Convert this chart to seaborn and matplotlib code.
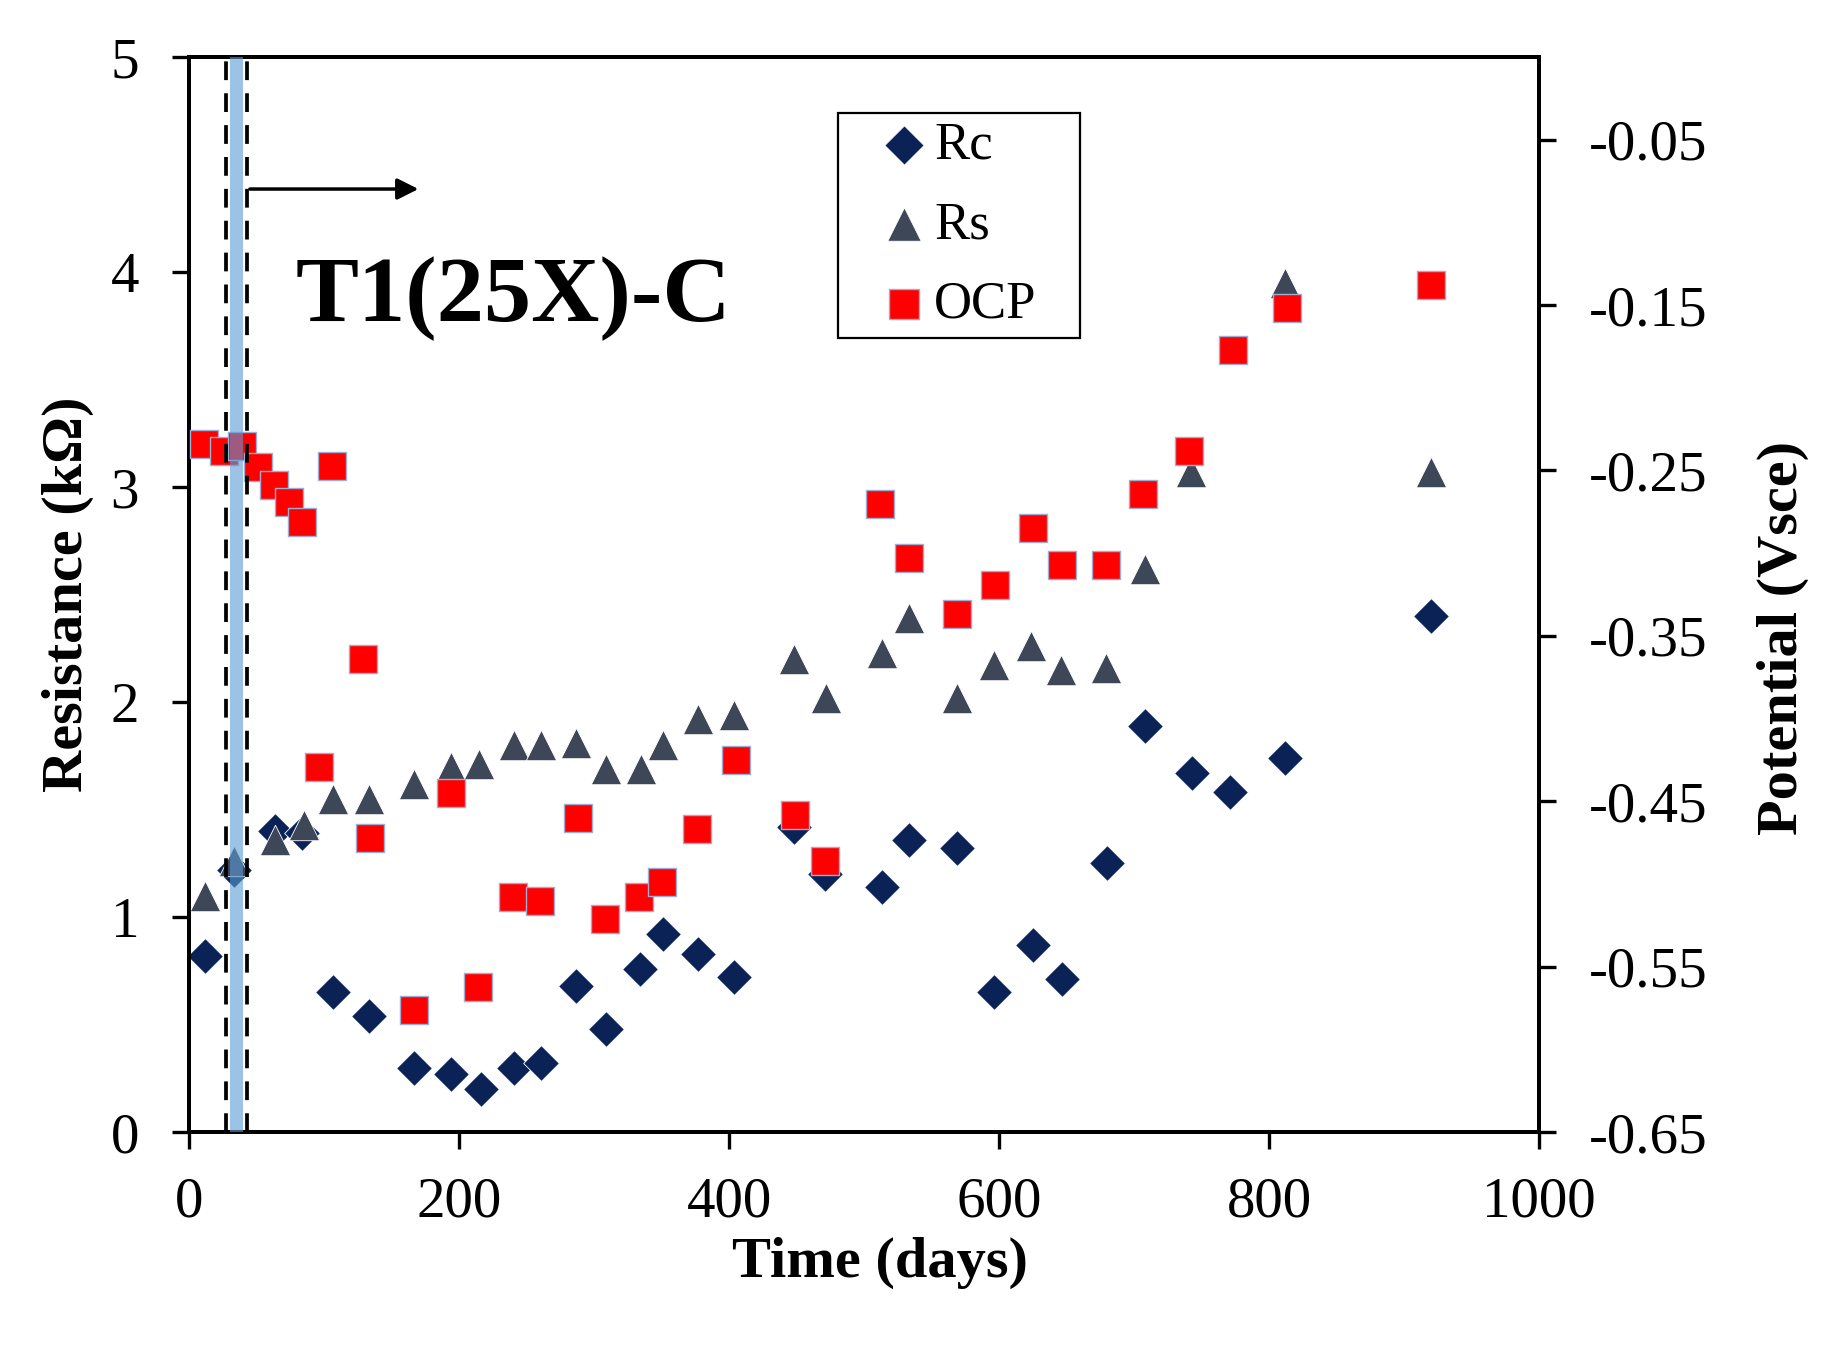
import numpy as np
import pandas as pd
import matplotlib
matplotlib.use("Agg")
import matplotlib.pyplot as plt
from matplotlib.patches import Rectangle
import seaborn as sns

# ------------------------------------------------------------
# data
# ------------------------------------------------------------
rc_days = [12, 33, 64, 84, 107, 133, 167, 194, 216, 241, 261, 287, 309, 334, 351,
           377, 404, 448, 471, 513, 533, 569, 596, 625, 647, 680, 708, 743, 771, 812, 920]
rc_vals = [0.82, 1.22, 1.40, 1.39, 0.65, 0.54, 0.30, 0.27, 0.20, 0.30, 0.32, 0.68, 0.48, 0.76, 0.92,
           0.83, 0.72, 1.42, 1.20, 1.14, 1.36, 1.32, 0.65, 0.87, 0.71, 1.25, 1.89, 1.67, 1.58, 1.74, 2.40]

rs_days = [12, 33, 64, 85, 107, 133, 167, 194, 215, 241, 261, 287, 309, 335, 351,
           377, 404, 448, 472, 513, 533, 569, 596, 624, 646, 679, 708, 742, 812, 920]
rs_vals = [1.10, 1.26, 1.36, 1.43, 1.55, 1.55, 1.62, 1.70, 1.71, 1.80, 1.80, 1.81, 1.69, 1.69, 1.80,
           1.92, 1.94, 2.20, 2.02, 2.23, 2.39, 2.02, 2.17, 2.26, 2.15, 2.16, 2.62, 3.07, 3.95, 3.07]

ocp_days = [11, 26, 39, 51, 63, 74, 84, 96, 106, 129, 134, 167, 194, 214, 240, 260, 288, 308,
            333, 350, 376, 405, 449, 471, 512, 533, 569, 597, 625, 647, 679, 707, 741, 773, 813, 920]
ocp_vals = [-0.234, -0.238, -0.235, -0.248, -0.259, -0.269, -0.281, -0.429, -0.247, -0.364, -0.472,
            -0.576, -0.445, -0.562, -0.508, -0.510, -0.460, -0.521, -0.508, -0.499, -0.467, -0.425,
            -0.458, -0.486, -0.270, -0.303, -0.337, -0.319, -0.285, -0.307, -0.307, -0.264, -0.238,
            -0.177, -0.152, -0.138]

x_ticks = [0, 200, 400, 600, 800, 1000]
left_ticks = [0, 1, 2, 3, 4, 5]
right_ticks = [-0.65, -0.55, -0.45, -0.35, -0.25, -0.15, -0.05]
right_labels = ['-0.65', '-0.55', '-0.45', '-0.35', '-0.25', '-0.15', '-0.05']

rc = pd.DataFrame({'day': rc_days, 'val': rc_vals})
rs = pd.DataFrame({'day': rs_days, 'val': rs_vals})
ocp = pd.DataFrame({'day': ocp_days, 'val': ocp_vals})

# ------------------------------------------------------------
# style
# ------------------------------------------------------------
sns.set_style('white')
plt.rcParams['font.family'] = ['Liberation Serif', 'DejaVu Serif']
plt.rcParams['text.color'] = 'black'
plt.rcParams['axes.labelcolor'] = 'black'

C_RC = '#0B2257'
C_RS = '#3E4757'
C_OCP = '#FF0000'

fig = plt.figure(figsize=(18.48, 13.48), dpi=100)
ax = fig.add_axes([0.1023, 0.1602, 0.7305, 0.7975])
ax2 = ax.twinx()

sns.scatterplot(data=rc, x='day', y='val', ax=ax, marker='D', s=330, color=C_RC,
                edgecolor='white', linewidth=0.6, label='Rc', zorder=3)
sns.scatterplot(data=rs, x='day', y='val', ax=ax, marker='^', s=480, color=C_RS,
                edgecolor='white', linewidth=0.6, label='Rs', zorder=3)
sns.scatterplot(data=ocp, x='day', y='val', ax=ax2, marker='s', s=400, color=C_OCP,
                edgecolor='#9BAFD6', linewidth=1.0, label='OCP', zorder=3)

# band / guide lines on top of the markers
ax2.axvspan(30.5, 40, color='#5B9BD5', alpha=0.6, lw=0, zorder=4)
ax2.axvline(27.5, color='black', ls=(0, (5, 3.5)), lw=2.7, zorder=5)
ax2.axvline(43, color='black', ls=(0, (5, 3.5)), lw=2.7, zorder=5)
ax.annotate('', xy=(172, 4.386), xytext=(43, 4.386),
            arrowprops=dict(arrowstyle='-|>', color='black', lw=2.5, mutation_scale=32))

ax.set_xlim(0, 1000)
ax.set_ylim(0, 5)
ax2.set_ylim(-0.65, 0.0)
ax.set_xticks(x_ticks)
ax.set_yticks(left_ticks)
ax2.set_yticks(right_ticks)
ax2.set_yticklabels(right_labels)

ax.set_xlabel('Time (days)', fontsize=42, fontweight='bold', labelpad=6)
ax.set_ylabel('Resistance (kΩ)', fontsize=42, fontweight='bold', labelpad=12)
ax2.set_ylabel('Potential (Vsce)', fontsize=42, fontweight='bold', labelpad=35)
ax.xaxis.label.set_x(0.512)
ax2.yaxis.label.set_y(0.46)

for a in (ax, ax2):
    for sp in a.spines.values():
        sp.set_linewidth(2.8)
        sp.set_color('black')
    a.tick_params(direction='out', length=12, width=2.4, labelsize=41, colors='black')

ax.tick_params(axis='y', left=True, right=False, pad=24)
ax.tick_params(axis='x', bottom=True, pad=20)
ax2.tick_params(axis='y', right=True, pad=24)

ax.text(0.24, 0.775, 'T1(25X)-C', transform=ax.transAxes, fontsize=68,
        fontweight='bold', ha='center', va='center')

# legend combining both axes, frame drawn separately
h1, l1 = ax.get_legend_handles_labels()
h2, l2 = ax2.get_legend_handles_labels()
if ax2.get_legend() is not None:
    ax2.get_legend().remove()
ax.get_legend().remove()
leg = ax2.legend(h1 + h2, l1 + l2, loc='upper left', bbox_to_anchor=(0.514, 0.94),
                 fontsize=38, frameon=False, borderaxespad=0, borderpad=0,
                 labelspacing=0.6, handletextpad=0.17, handlelength=0.8, markerscale=1.1)
leg.set_zorder(6)
ax2.add_patch(Rectangle((0.481, 0.739), 0.179, 0.209, transform=ax2.transAxes,
                        fill=False, ec='black', lw=1.6, zorder=6))

fig.savefig('out.png', dpi=100)
